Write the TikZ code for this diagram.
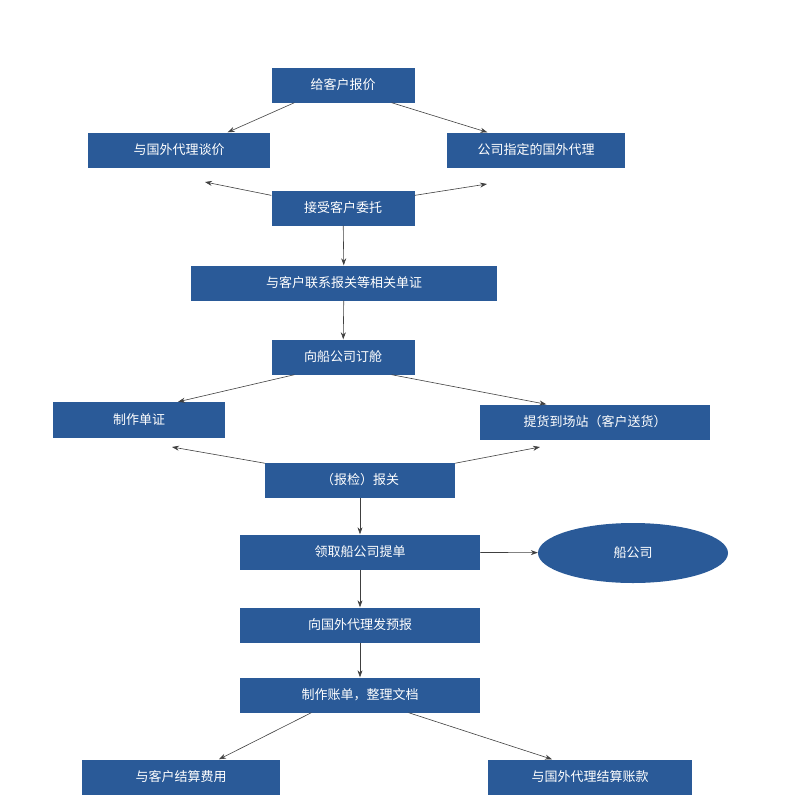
\documentclass[tikz,border=0pt]{standalone}
\usepackage{fontspec}
\setmainfont{Noto Sans CJK SC}
\usetikzlibrary{arrows.meta,shapes.geometric}
\begin{document}
\begin{tikzpicture}[x=1pt,y=-1pt,
  bx/.style={fill=boxblue,text=white,inner sep=0,font=\fontsize{13}{15}\selectfont},
  ar/.style={draw=black!75,line width=0.6pt,-{Stealth[length=7pt,width=5pt]}}]
\definecolor{boxblue}{HTML}{2A5A98}
\useasboundingbox (0,0) rectangle (800,807);
\node[bx,minimum width=143,minimum height=35] (a) at (343,85) {给客户报价};
\node[bx,minimum width=182,minimum height=35] (b) at (179,150) {与国外代理谈价};
\node[bx,minimum width=178,minimum height=35] (c) at (536,150) {公司指定的国外代理};
\node[bx,minimum width=143,minimum height=35] (d) at (343,208) {接受客户委托};
\node[bx,minimum width=306,minimum height=35] (e) at (344,283) {与客户联系报关等相关单证};
\node[bx,minimum width=143,minimum height=35] (f) at (343,357) {向船公司订舱};
\node[bx,minimum width=172,minimum height=36] (g) at (139,420) {制作单证};
\node[bx,minimum width=230,minimum height=35] (h) at (595,422) {提货到场站（客户送货）};
\node[bx,minimum width=190,minimum height=35] (i) at (360,480) {（报检）报关};
\node[bx,minimum width=240,minimum height=35] (j) at (360,552) {领取船公司提单};
\node[bx,ellipse,minimum width=190,minimum height=60] (k) at (633,553) {船公司};
\node[bx,minimum width=240,minimum height=35] (l) at (360,625) {向国外代理发预报};
\node[bx,minimum width=240,minimum height=35] (m) at (360,695) {制作账单，整理文档};
\node[bx,minimum width=198,minimum height=35] (n) at (181,777) {与客户结算费用};
\node[bx,minimum width=204,minimum height=35] (o) at (590,777) {与国外代理结算账款};
\coordinate (p1) at (205,182);
\coordinate (p2) at (487,184);
\coordinate (p3) at (172,447);
\coordinate (p4) at (540,447);
\draw[ar] (a.200) -- (b.20);
\draw[ar] (a.-20) -- (c.160);
\draw[ar] (d.170) -- (p1);
\draw[ar] (d.10) -- (p2);
\draw[ar] (d) -- (e);
\draw[ar] (e) -- (f);
\draw[ar] (f.200) -- (g.25);
\draw[ar] (f.-20) -- (h.160);
\draw[ar] (i.170) -- (p3);
\draw[ar] (i.10) -- (p4);
\draw[ar] (i) -- (j);
\draw[ar] (j) -- (k);
\draw[ar] (j) -- (l);
\draw[ar] (l) -- (m);
\draw[ar] (m.200) -- (n.25);
\draw[ar] (m.-20) -- (o.155);
\end{tikzpicture}
\end{document}
